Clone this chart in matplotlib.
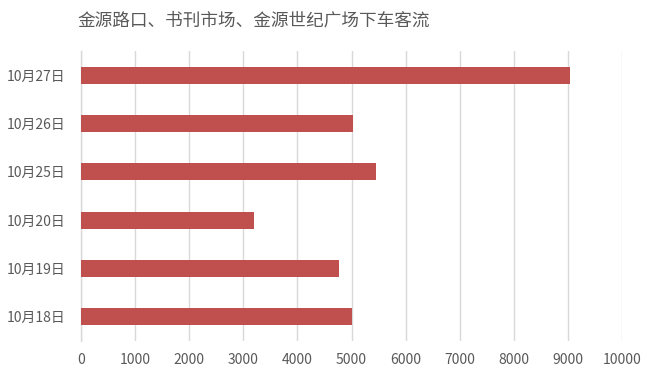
import matplotlib.pyplot as plt

plt.rcParams['font.family'] = ['Noto Sans CJK SC', 'DejaVu Sans']

# --- DATA ---
dates = ['10月18日', '10月19日', '10月20日', '10月25日', '10月26日', '10月27日']
riders = [5000, 4770, 3200, 5450, 5030, 9040]
x_ticks = list(range(0, 10001, 1000))

TEXT_COLOR = '#595959'
BAR_COLOR = '#C0504D'
GRID_COLOR = '#D9D9D9'

fig = plt.figure(figsize=(6.47, 3.74), dpi=100)
ax = fig.add_axes([0.1249, 0.0888, 0.8369, 0.7742])

ax.barh(dates, riders, height=0.35, color=BAR_COLOR, zorder=3)

ax.set_xlim(0, 10000)
ax.set_ylim(-0.5, len(dates) - 0.5)
ax.set_xticks(x_ticks)
ax.xaxis.grid(True, color=GRID_COLOR, linewidth=1, zorder=0)
ax.tick_params(axis='both', length=0, colors=TEXT_COLOR, labelsize=10)
ax.tick_params(axis='x', pad=9)
ax.tick_params(axis='y', pad=11)

for side in ['top', 'right', 'bottom']:
    ax.spines[side].set_visible(False)
ax.spines['left'].set_color(GRID_COLOR)
ax.spines['left'].set_linewidth(1)

fig.text(0.12, 0.945, '金源路口、书刊市场、金源世纪广场下车客流',
         fontsize=12.7, color=TEXT_COLOR, va='center', ha='left')

fig.savefig('out.png', dpi=100)
